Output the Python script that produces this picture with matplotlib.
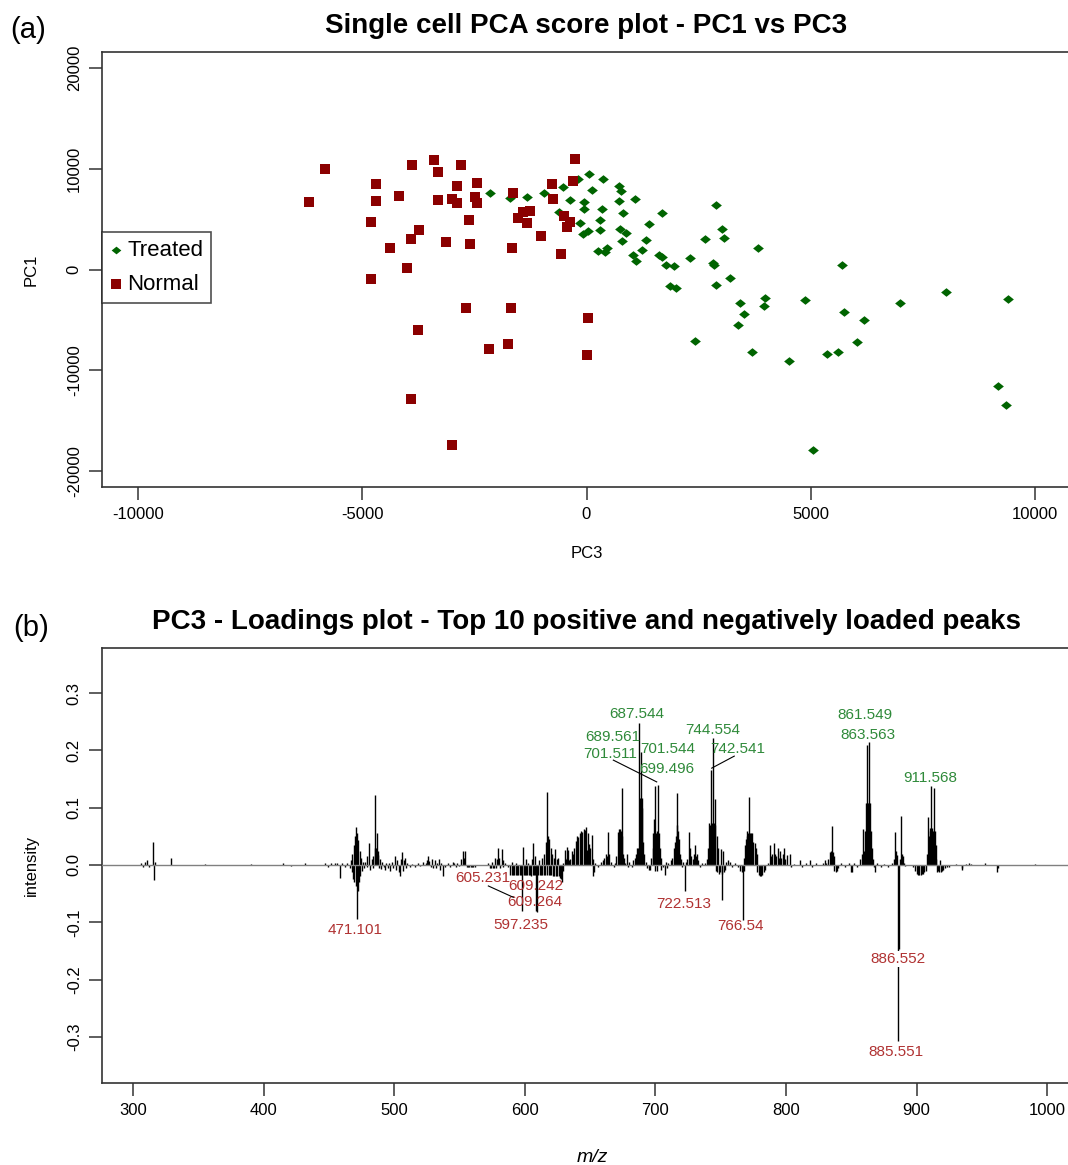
import numpy as np
import matplotlib
matplotlib.use("Agg")
import matplotlib.pyplot as plt

plt.rcParams['font.family'] = ['Liberation Sans', 'DejaVu Sans']
plt.rcParams['axes.unicode_minus'] = False

# (a) PCA scores
treated_pc3 = [60, 360, -200, -520, -950, 120, 720, 780, 1070, 720,
               -370, -50, -50, 350, 820, 1690, -610, 2890, 300, -140,
               1400, 310, 750, 880, 40, -70, 3010, 3060, 2640, 1330,
               800, 3830, 260, 450, 420, 1240, 1030, 1100, 1620, 1690,
               2300, 1770, 1950, 2810, 2850, 5700, 3200, 2880, 1870, 2000,
               8010, 9400, 3990, 3960, 3420, 4870, 6990, 3520, 5730, 6190,
               3380, 2420, 3700, 4520, 5350, 5610, 6030, 9170, 9350, 5040,
               -2140, -1710, -1330]
treated_pc1 = [9480, 9010, 9010, 8220, 7620, 7890, 8290, 7760, 7030, 6800,
               6870, 6670, 5980, 5980, 5580, 5640, 5710, 6370, 4880, 4650,
               4520, 3920, 3990, 3590, 3820, 3490, 3990, 3130, 3030, 2930,
               2800, 2160, 1870, 2100, 1710, 1940, 1440, 840, 1440, 1270,
               1170, 480, 350, 650, 450, 480, -810, -1510, -1670, -1810,
               -2230, -2930, -2830, -3590, -3350, -3060, -3350, -4390, -4250, -4980,
               -5540, -7130, -8160, -9080, -8390, -8160, -7230, -11530, -13450, -17950,
               7560, 7070, 7200]
normal_pc3 = [-5830, -6190, -3900, -3390, -3300, -2800, -4690, -4690, -4170, -2890,
              -2430, -3300, -2990, -2890, -2490, -2430, -1630, -4800, -3730, -3910,
              -4380, -3130, -2620, -2600, -1660, -1410, -1260, -1520, -1330, -1010,
              -570, -760, -750, -310, -260, -500, -370, -430, -4000, -4800,
              -2690, -1690, -3750, 40, -2170, -1760, 10, -3910, -2990]
normal_pc1 = [9980, 6700, 10400, 10840, 9710, 10400, 8490, 6830, 7330, 8290,
              8560, 6900, 6970, 6570, 7230, 6570, 7560, 4710, 3920, 3030,
              2130, 2700, 4940, 2560, 2130, 5740, 5810, 5080, 4590, 3300,
              1570, 8490, 7000, 8780, 10970, 5310, 4740, 4250, 150, -940,
              -3850, -3850, -6000, -4810, -7890, -7420, -8520, -12850, -17420]

# (b) PC3 loadings (m/z, loading)
loading_mz = [306, 308, 309, 311, 312, 315.3, 315.8, 316.5, 329,
              355, 390, 415, 421, 432, 447, 449, 452, 455,
              456, 458.5, 460, 462, 464, 466, 467, 467.5, 468, 468.5, 469, 469.5, 470, 470.5, 471, 471.3, 471.8, 472, 472.5, 473, 473.5, 474, 474.5, 475, 476, 477,
              478, 478.9, 479.5, 480.7, 481.5, 482.8, 483.5, 484, 485, 485.5, 486, 486.8, 487.5, 488, 488.5, 489, 490, 491, 492, 493, 494, 495, 496, 497, 498, 499, 500.6, 501.5,
              502.5, 503.5, 504.4, 505, 505.7, 506.5, 507.5, 508.3, 509, 510, 512, 514, 516, 518, 520, 522, 524, 525, 526, 527, 528, 529, 530, 531, 532, 533, 534, 535, 536, 537.6, 539,
              541, 543, 545, 546, 547, 548, 550, 551, 552.9, 553.5, 554.5, 555.5, 556.5, 557.5, 558.5, 559.5, 560.5, 562,
              572, 573, 574, 574.6, 575.5, 576.5, 577, 578, 579, 579.7, 580.5, 581, 582.3, 583, 583.5, 585, 587, 589, 590, 590.5, 591, 592, 593, 593.5, 594, 595, 596, 597, 597.6, 598.2, 598.9, 599.5, 600, 600.7, 601,
              602, 602.5, 603, 604, 605, 605.3, 606, 606.5, 607, 607.5, 608, 608.7, 609.7, 610.5, 611, 611.5, 612.5, 613, 613.5, 614.5, 615, 615.5, 616, 616.8, 617.3, 617.8, 618.3, 618.8, 619.3, 619.8, 620.3, 620.8, 621.3, 622, 622.5, 623.1, 623.8, 624.5, 625, 625.6, 626.2, 627, 627.5, 628.2, 629, 629.5,
              630.8, 631.5, 632, 632.5, 633, 634, 635, 636, 637.1, 638, 639, 640, 641, 642, 643, 644, 645, 646, 647, 647.4, 648.2, 649, 650, 651.2, 652, 652.5, 653.2, 654, 656, 658, 660, 661, 662, 663, 664, 664.7, 666, 668,
              669, 670, 671, 672, 672.9, 673.5, 674.2, 674.8, 675.5, 676, 677, 678.5, 679, 680, 682, 683, 684.4, 685, 686, 686.5, 687.4, 688, 689, 689.5, 690, 690.7, 691.5, 692.5, 693.5, 695, 695.9, 697, 698, 698.4, 699, 699.5, 699.9, 700.5, 701, 701.5, 702.2, 702.8, 703.5, 704, 704.5, 705.5,
              707.4, 708, 709, 710, 712, 713, 714, 715, 715.5, 716.2, 716.8, 717.3, 718, 718.8, 719.5, 720.5, 721, 722.9, 723.5, 724.5, 725.5, 726.5, 727.5, 728.5, 729.5, 730.3, 731, 732, 733, 734, 736, 738,
              739.5, 740.5, 741.3, 742, 742.9, 743.5, 744.3, 744.8, 745.5, 746, 746.5, 747, 747.5, 748, 748.5, 749.5, 750, 750.7, 751.3, 752, 752.5, 753.5, 754, 755.5, 757, 759, 761, 763, 765,
              766, 766.8, 767.5, 768, 768.6, 769.3, 770, 770.5, 771.2, 771.7, 772.2, 773, 773.5, 774.3, 775, 776, 777, 777.6, 778, 779, 780, 781, 782, 783, 784, 786, 787.7, 788.5, 789.5, 790.5, 791.5, 792.5, 793.5, 794.5, 795.5, 796.5, 797.5, 798.5, 799.5, 801, 803, 804, 806, 810.7, 812,
              815, 818.5, 820, 823, 828, 829.9, 831, 832.5, 833.5, 834.5, 835.2, 836, 836.5, 837, 838, 839, 840, 842, 845, 848, 849.5, 850.5, 852, 854, 856.5,
              858, 859.2, 860, 860.8, 861.3, 861.8, 862.3, 862.8, 863.3, 863.8, 864.3, 865, 865.5, 866.5, 867, 868, 870, 873, 875, 878, 881, 882.5, 883.7, 884.3, 884.8, 885.8, 886.3, 887, 888, 888.6, 889.3, 890, 891,
              897, 899, 900, 901, 902, 903, 904, 905, 906, 907, 908, 909, 909.5, 910, 910.5, 911, 911.5, 912, 912.7, 913.5, 914, 914.5, 915, 915.5, 916.5, 917.5, 918, 918.5, 919.5, 920.5, 921.5, 923, 925, 930, 934.5, 935, 938, 940, 942, 952.2, 961.3, 962, 990.3]
loading_val = [0.003, -0.003, 0.006, 0.009, -0.004, 0.040, -0.027, 0.006, 0.012,
               0.002, 0.002, 0.004, -0.002, 0.003, 0.003, -0.003, 0.004, 0.003,
               0.003, -0.023, 0.004, -0.003, 0.003, -0.006, 0.009, -0.013, 0.020, -0.025, 0.035, -0.030, 0.050, -0.037, 0.067, -0.095, 0.055, -0.045, 0.044, -0.030, 0.025, -0.020, 0.013, -0.010, 0.006, -0.006,
               0.006, 0.016, -0.004, 0.038, -0.008, 0.010, -0.005, 0.016, 0.030, 0.122, 0.030, 0.055, 0.025, 0.018, -0.006, 0.010, -0.007, 0.005, -0.004, -0.008, 0.004, -0.006, 0.003, -0.010, 0.006, -0.005, 0.016, -0.008,
               0.008, -0.012, -0.020, 0.010, 0.022, -0.010, 0.008, 0.013, -0.006, 0.004, -0.004, 0.002, -0.003, 0.003, -0.002, 0.006, 0.004, 0.009, 0.016, 0.007, -0.004, 0.010, -0.006, 0.008, -0.005, 0.004, 0.010, -0.008, 0.004, -0.020, -0.004,
               0.003, -0.004, 0.006, 0.003, -0.003, 0.004, -0.002, 0.010, 0.025, 0.012, 0.025, -0.004, -0.004, -0.004, -0.004, -0.004, -0.004, -0.003,
               0.004, -0.005, -0.005, 0.006, -0.005, -0.005, 0.012, -0.005, 0.010, 0.029, 0.012, -0.005, 0.028, 0.008, -0.004, 0.004, -0.004, -0.017, -0.017, 0.005, -0.017, -0.017, -0.017, 0.004, -0.017, -0.017, -0.017, -0.017, -0.081, -0.017, 0.032, -0.017, -0.017, 0.011, -0.017,
               -0.017, 0.004, -0.017, -0.017, -0.020, 0.011, -0.017, 0.038, -0.017, 0.015, -0.017, -0.080, -0.082, -0.017, 0.008, -0.017, -0.017, 0.012, -0.017, -0.017, 0.020, -0.017, 0.040, 0.128, -0.017, 0.050, -0.017, 0.045, -0.017, 0.030, -0.017, 0.020, -0.020, 0.012, -0.020, 0.028, -0.020, 0.010, -0.020, 0.013, -0.020, -0.022, -0.024, -0.029, -0.010, 0.004,
               0.026, 0.010, 0.031, 0.012, 0.027, 0.008, 0.010, 0.025, 0.020, 0.030, 0.042, 0.050, 0.049, 0.055, 0.060, 0.058, 0.063, 0.061, 0.066, 0.026, 0.055, 0.037, 0.030, 0.053, 0.010, -0.020, -0.012, 0.004, -0.004, 0.005, 0.008, 0.012, 0.020, 0.015, 0.058, 0.020, 0.006, -0.004,
               0.004, 0.015, 0.058, 0.063, 0.063, 0.060, 0.134, 0.050, 0.020, 0.012, 0.004, 0.020, -0.004, 0.005, -0.004, 0.008, 0.012, 0.020, 0.030, 0.030, 0.247, 0.117, 0.198, 0.117, 0.100, 0.040, 0.020, 0.005, -0.006, -0.009, -0.009, 0.012, 0.030, 0.055, 0.080, -0.010, 0.137, 0.055, 0.060, -0.010, 0.140, 0.055, 0.030, -0.008, 0.012, -0.004,
               -0.017, 0.005, -0.006, 0.004, 0.008, 0.012, 0.030, 0.040, 0.050, 0.070, 0.125, 0.060, 0.045, 0.020, 0.010, -0.004, 0.005, -0.045, 0.006, 0.010, 0.058, 0.030, 0.015, 0.010, 0.020, 0.035, 0.015, 0.020, 0.008, -0.004, 0.003, 0.004,
               0.010, 0.030, 0.073, 0.070, 0.166, 0.073, 0.221, 0.073, 0.115, 0.070, -0.010, 0.050, -0.012, 0.030, -0.015, -0.012, 0.028, -0.061, -0.015, 0.025, -0.012, -0.008, 0.005, 0.008, 0.005, -0.003, 0.004, -0.004, -0.010,
               -0.012, -0.096, -0.010, 0.012, 0.035, 0.045, 0.050, 0.060, 0.055, 0.118, 0.055, 0.055, 0.045, 0.055, 0.040, 0.038, 0.030, 0.020, -0.012, -0.018, -0.020, -0.020, -0.018, -0.012, -0.008, 0.004, 0.035, 0.015, 0.020, 0.038, 0.020, 0.015, 0.030, 0.012, 0.025, 0.012, 0.020, 0.030, 0.010, 0.018, 0.020, -0.003, 0.002, 0.008, -0.003,
               0.003, 0.008, -0.003, 0.003, 0.004, 0.008, 0.004, 0.010, 0.023, 0.025, 0.068, 0.023, 0.015, -0.010, -0.012, -0.010, -0.006, 0.004, -0.003, 0.003, -0.012, -0.013, 0.003, -0.004, 0.010,
               0.020, 0.062, 0.025, 0.060, 0.109, 0.210, 0.109, 0.109, 0.109, 0.215, 0.109, 0.060, 0.030, 0.010, -0.004, -0.012, 0.003, -0.003, 0.002, -0.003, 0.004, 0.010, 0.058, 0.025, 0.018, -0.308, -0.146, 0.010, 0.085, 0.020, 0.015, 0.004, -0.002,
               -0.004, -0.010, -0.015, -0.018, -0.017, -0.018, -0.016, -0.015, -0.012, -0.010, 0.020, 0.083, 0.050, 0.065, 0.060, 0.138, 0.065, 0.060, 0.060, 0.135, 0.060, 0.035, 0.010, -0.012, -0.010, -0.012, 0.008, -0.012, -0.010, -0.008, -0.006, -0.004, -0.003, 0.002, -0.009, -0.005, 0.002, 0.003, 0.002, 0.004, -0.012, -0.006, 0.002]

pos_labels = ["687.544", "689.561", "701.511", "701.544", "699.496",
              "744.554", "742.541", "861.549", "863.563", "911.568"]
neg_labels = ["605.231", "609.242", "609.264", "597.235", "471.101",
              "722.513", "766.54", "886.552", "885.551"]

# label placement (m/z, loading) for the text centres
pos_label_xy = [(685.9, 0.2635), (667.2, 0.223), (665.2, 0.194), (709.3, 0.202), (708.5, 0.1675),
                (743.7, 0.2356), (762.9, 0.2024), (860.5, 0.262), (862.8, 0.2277), (910.3, 0.152)]
neg_label_xy = [(567.6, -0.0227), (608.3, -0.0366), (607.8, -0.0654), (596.9, -0.1047), (470.0, -0.1134),
                (721.9, -0.068), (765.5, -0.1065), (886.0, -0.164), (884.1, -0.326)]
leaders = [((667.8, 0.183), (701.0, 0.145)),
           ((760.4, 0.190), (743.1, 0.169)),
           ((572.1, -0.0366), (591.2, -0.0564))]

green = '#006400'
darkred = '#8b0000'
lab_green = '#2f8a3a'
lab_red = '#b03232'
axcol = '#333333'

W, H = 1068, 1165
fig = plt.figure(figsize=(W / 100, H / 100), dpi=100)


def style_axes(ax):
    ax.spines['right'].set_visible(False)
    for s in ['left', 'bottom', 'top']:
        ax.spines[s].set_color(axcol)
        ax.spines[s].set_linewidth(1.2)
    ax.tick_params(direction='out', length=9.5, width=1.1, color=axcol, labelsize=12)
    ax.tick_params(axis='x', pad=5)
    ax.tick_params(axis='y', pad=5)
    for lab in ax.get_yticklabels():
        lab.set_rotation(90)
        lab.set_va('center')


# ---- (a) score plot ----
ax1 = fig.add_axes([102 / W, 1 - 487 / H, (1071 - 102) / W, (487 - 52) / H])
ax1.scatter(treated_pc3, treated_pc1, s=60, c=green, linewidths=0,
            marker=[(-1, 0), (0, 0.8), (1, 0), (0, -0.8)], label='Treated', zorder=3)
ax1.scatter(normal_pc3, normal_pc1, s=52, c=darkred, linewidths=0, marker='s',
            label='Normal', zorder=4)
ax1.set_xlim(-10800, 10800)
ax1.set_ylim(-21600, 21600)
ax1.set_xticks([-10000, -5000, 0, 5000, 10000])
ax1.set_yticks([-20000, -10000, 0, 10000, 20000])
style_axes(ax1)
ax1.set_xlabel('PC3', fontsize=12, labelpad=17)
ax1.set_ylabel('PC1', fontsize=12, labelpad=20)
leg = ax1.legend(loc='upper left', bbox_to_anchor=(0, (487 - 232) / (487 - 52)),
                 borderaxespad=0, fontsize=16, frameon=True, fancybox=False,
                 handlelength=0.6, handletextpad=0.2, borderpad=0.35, labelspacing=0.6,
                 markerscale=0.9)
leg.get_frame().set_edgecolor('#222222')
leg.get_frame().set_linewidth(1.2)

fig.text(586 / W, 1 - 26 / H, 'Single cell PCA score plot - PC1 vs PC3',
         ha='center', va='center', fontsize=20, fontweight='bold')
fig.text(28 / W, 1 - 30 / H, '(a)', ha='center', va='center', fontsize=21)

# ---- (b) loadings ----
ax2 = fig.add_axes([102 / W, 1 - 1083 / H, (1083 - 102) / W, (1083 - 648) / H])
ax2.vlines(loading_mz, 0, loading_val, colors='black', linewidth=1.0, zorder=2)
ax2.axhline(0, color='#808080', linewidth=1.0, zorder=3)
ax2.set_xlim(276.3, 1027.4)
ax2.set_ylim(-0.3805, 0.3787)
ax2.set_xticks([300, 400, 500, 600, 700, 800, 900, 1000])
ax2.set_yticks([-0.3, -0.2, -0.1, 0.0, 0.1, 0.2, 0.3])
ax2.set_yticklabels(['-0.3', '-0.2', '-0.1', '0.0', '0.1', '0.2', '0.3'])
style_axes(ax2)
ax2.set_ylabel('intensity', fontsize=12, labelpad=20)
ax2.set_xlabel('m/z', fontsize=14, fontstyle='italic', labelpad=22)

for txt, (x, y) in zip(pos_labels, pos_label_xy):
    ax2.text(x, y, txt, ha='center', va='center', fontsize=11, color=lab_green, zorder=4)
for txt, (x, y) in zip(neg_labels, neg_label_xy):
    bb = dict(facecolor='white', edgecolor='none', pad=0.5) if txt == '886.552' else None
    ax2.text(x, y, txt, ha='center', va='center', fontsize=11, color=lab_red, zorder=4, bbox=bb)
for (x0, y0), (x1, y1) in leaders:
    ax2.plot([x0, x1], [y0, y1], color='black', linewidth=0.8, zorder=4)

fig.text(586 / W, 1 - 622 / H, 'PC3 - Loadings plot - Top 10 positive and negatively loaded peaks',
         ha='center', va='center', fontsize=20, fontweight='bold')
fig.text(31 / W, 1 - 628 / H, '(b)', ha='center', va='center', fontsize=21)

fig.savefig('out.png', dpi=100)
